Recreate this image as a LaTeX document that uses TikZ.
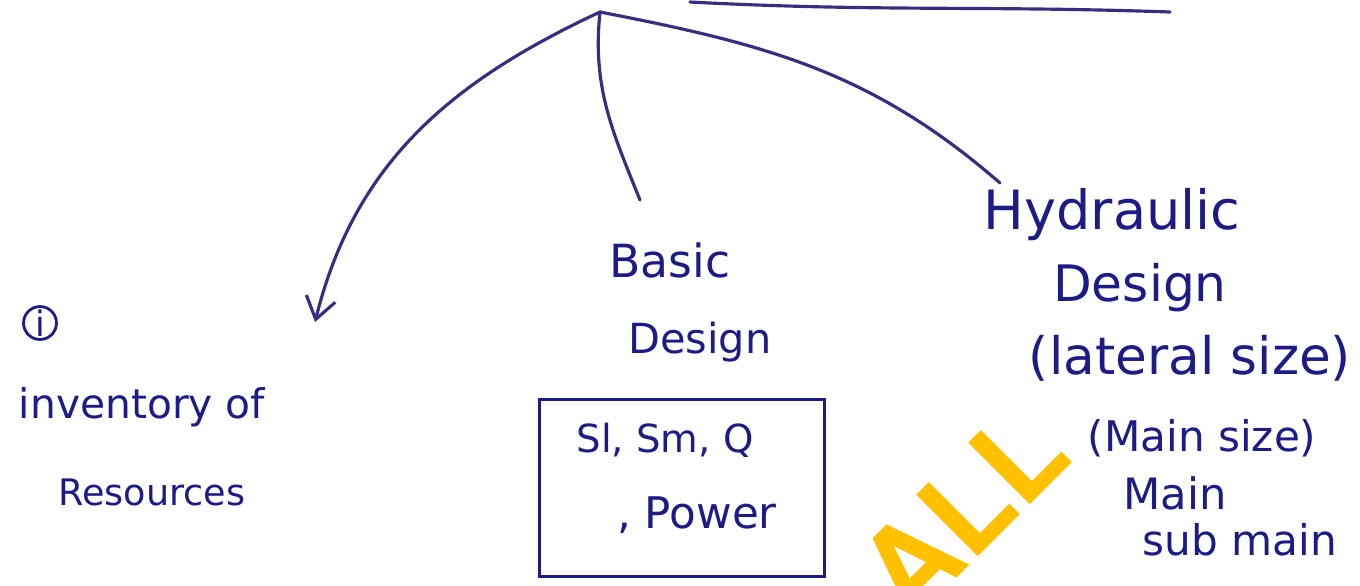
\documentclass[tikz,border=0pt]{standalone}
\usepackage{fontspec}
\setmainfont{DejaVu Sans}
\newfontfamily\marcafont{TeX Gyre Heros}
\usepackage{xcolor}
\usepackage{tikz}
\usetikzlibrary{
  arrows.meta,
  positioning,
  calc
}
\definecolor{tinta}{HTML}{1E1A86}
\definecolor{traco}{HTML}{3A2C80}
\definecolor{marca}{HTML}{FFC000}

\begin{document}
\begin{tikzpicture}[
    >={Straight Barb[angle=70:2.6mm]},
    escrita/.style={
        text=tinta,
        inner sep=1pt,
        font=\fontsize{#1}{#1}\selectfont
    },
    escrita/.default=13,
    caixa/.style={
        draw=tinta,
        line width=1pt,
        minimum width=2.85cm,
        minimum height=1.77cm,
        align=center,
        text=tinta
    },
    ramo/.style={
        traco,
        line width=0.9pt,
        line cap=round
    }
]

\useasboundingbox (0,0) rectangle (13.6,5.85);

% ============================================================
% MARCA D'AGUA
% ============================================================

\begin{scope}
\clip (0,0) rectangle (13.6,5.85);
\node[text=marca, rotate=45, anchor=base west, inner sep=0pt,
      font=\marcafont\fontsize{34}{34}\selectfont\bfseries]
      (marcagua) at (9.10,-0.40) {ALL};
\end{scope}

% ============================================================
% PONTOS
% ============================================================

\coordinate (topo) at (6.00,5.73);
\coordinate (linhaA) at (6.90,5.83);
\coordinate (linhaB) at (11.70,5.73);
\coordinate (pontaInv) at (3.15,2.63);
\coordinate (fimBasic) at (6.40,3.85);
\coordinate (fimHyd) at (10.00,4.02);

% ============================================================
% TEXTOS
% ============================================================

\node[escrita=10, circle, draw=tinta, line width=0.8pt, inner sep=0.5pt,
      minimum size=0.32cm] (num) at (0.40,2.62) {i};
\node[escrita=11.6] (inv) at (1.42,1.78) {inventory of};
\node[escrita=10.4] (res) at (1.52,0.93) {Resources};

\node[escrita] (basic) at (6.70,3.25) {Basic};
\node[escrita=11.8] (bdes) at (7.00,2.43) {Design};
\node[caixa] (dados) at (6.82,0.97) {};
\node[escrita=11] (linha1) at (6.65,1.45) {Sl, Sm, Q};
\node[escrita=12.4] (linha2) at (6.97,0.70) {, Power};

\node[escrita=15.4] (hyd) at (11.12,3.70) {Hydraulic};
\node[escrita=14.3] (hdes) at (11.40,2.97) {Design};
\node[escrita=14.7] (lat) at (11.90,2.27) {(lateral size)};
\node[escrita=12] (msize) at (12.02,1.47) {(Main size)};
\node[escrita=12.3] (main) at (11.75,0.92) {Main};
\node[escrita=12] (sub) at (12.40,0.45) {sub main};

% ============================================================
% RAMOS
% ============================================================

\draw[ramo] (linhaA) to[out=-3,in=178] (linhaB);
\draw[ramo, ->] (topo) to[out=205,in=76] (pontaInv);
\draw[ramo] (topo) to[out=264,in=112] (fimBasic);
\draw[ramo] (topo) to[out=-11,in=139] (fimHyd);

\end{tikzpicture}
\end{document}
